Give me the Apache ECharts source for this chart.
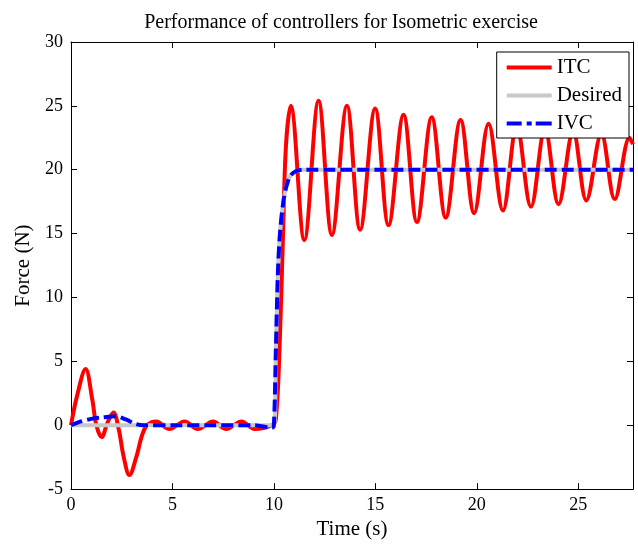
<!DOCTYPE html>
<html>
<head>
<meta charset="utf-8">
<script src="https://cdn.jsdelivr.net/npm/echarts@6/dist/echarts.min.js"></script>
<style>
  html, body { margin: 0; padding: 0; background: #fff; }
  #chart { width: 638px; height: 545px; }
</style>
</head>
<body>
<div id="chart"></div>
<script>
// valeurs : [temps (s), force (N)] — extrêmes des oscillations
const itc = [
  [0, 0], [0.3, 2.3], [0.72, 4.4], [1.05, 2.0], [1.25, 0], [1.51, -0.93], [1.8, 0.2], [2.09, 1.0],
  [2.35, -0.3], [2.6, -2.5], [2.88, -3.9], [3.2, -2.6], [3.5, -0.8], [3.75, 0], [4.2, 0.3],
  [4.85, -0.3], [5.6, 0.3], [6.25, -0.3], [7.0, 0.3], [7.65, -0.3], [8.4, 0.3], [9.05, -0.3],
  [9.9, 0], [10.1, 0.5], [10.3, 7], [10.45, 15], [10.6, 22], [10.83, 25.0], [11.5, 14.5], [12.2, 25.4],
  [12.86, 14.9], [13.6, 25.0], [14.25, 15.3], [14.99, 24.8], [15.65, 15.65], [16.39, 24.3],
  [17.05, 15.9], [17.78, 24.1], [18.47, 16.25], [19.2, 23.9], [19.87, 16.6], [20.58, 23.6],
  [21.29, 16.8], [21.97, 23.4], [22.67, 17.1], [23.36, 23.2], [24.03, 17.3], [24.75, 23.0],
  [25.4, 17.6], [26.14, 22.8], [26.8, 17.7], [27.53, 22.5], [27.7, 22.0]
];
const desired = [
  [0, 0], [10.0, 0], [10.1, 6], [10.2, 12], [10.3, 15], [10.45, 17.3], [10.6, 18.6], [10.8, 19.5],
  [11.1, 19.9], [11.5, 20], [27.7, 20]
];
const ivc = [
  [0, 0], [0.5, 0.3], [1.0, 0.5], [1.5, 0.6], [2.2, 0.7], [2.7, 0.45], [3.2, 0.1], [3.6, 0],
  [5, 0], [7, 0], [9, 0], [9.9, -0.2], [10.0, 0], [10.1, 6], [10.2, 12], [10.3, 15], [10.45, 17.3],
  [10.6, 18.6], [10.8, 19.5], [11.1, 19.9], [11.5, 20], [27.7, 20]
];
const xTicks = [0, 5, 10, 15, 20, 25];
const yTicks = [-5, 0, 5, 10, 15, 20, 25, 30];

const FONT = '"Liberation Serif", "DejaVu Serif", serif';
const chart = echarts.init(document.getElementById('chart'));

const axisCommon = {
  axisLine: { show: true, onZero: false, lineStyle: { color: '#000', width: 1 } },
  axisTick: { show: true, inside: true, length: 6, lineStyle: { color: '#000' } },
  splitLine: { show: false }
};

chart.setOption({
  animation: false,
  title: {
    text: 'Performance of controllers for Isometric exercise',
    left: 336, top: 8, textAlign: 'center',
    textStyle: { fontFamily: FONT, fontSize: 20, fontWeight: 'normal', color: '#000' }
  },
  legend: {
    orient: 'vertical', right: 9, top: 52,
    data: [
      { name: 'ITC', icon: 'rect' },
      { name: 'Desired', icon: 'rect' },
      { name: 'IVC', icon: 'path://M0,0h15v4h-15z M20,0h5v4h-5z M29,0h16v4h-16z' }
    ],
    itemWidth: 45, itemHeight: 4, itemGap: 7,
    padding: [5, 7, 4, 10],
    backgroundColor: '#fff', borderColor: '#000', borderWidth: 1, borderRadius: 0,
    textStyle: { fontFamily: FONT, fontSize: 21, color: '#000' }
  },
  grid: { left: 71, right: 5, top: 42, bottom: 52 },
  xAxis: [
    Object.assign({}, axisCommon, {
      type: 'value', min: 0, max: 27.7, interval: 5, position: 'bottom',
      name: 'Time (s)', nameLocation: 'middle', nameGap: 28,
      nameTextStyle: { fontFamily: FONT, fontSize: 21, color: '#000' },
      axisLabel: {
        fontFamily: FONT, fontSize: 18, color: '#000', margin: 7,
        formatter: (v) => (xTicks.indexOf(v) >= 0 ? String(v) : '')
      }
    }),
    Object.assign({}, axisCommon, {
      type: 'value', min: 0, max: 27.7, interval: 5, position: 'top',
      axisLabel: { show: false }
    })
  ],
  yAxis: [
    Object.assign({}, axisCommon, {
      type: 'value', min: -5, max: 30, interval: 5, position: 'left',
      name: 'Force (N)', nameLocation: 'middle', nameGap: 30, nameRotate: 90,
      nameTextStyle: { fontFamily: FONT, fontSize: 21, color: '#000' },
      axisLabel: {
        fontFamily: FONT, fontSize: 18, color: '#000', margin: 8,
        formatter: (v) => (yTicks.indexOf(v) >= 0 ? String(v) : '')
      }
    }),
    Object.assign({}, axisCommon, {
      type: 'value', min: -5, max: 30, interval: 5, position: 'right',
      axisLabel: { show: false }
    })
  ],
  series: [
    {
      name: 'ITC', type: 'line', data: itc, smooth: 0.36, symbol: 'none',
      lineStyle: { color: '#ff0000', width: 4 }, itemStyle: { color: '#ff0000' }
    },
    {
      name: 'Desired', type: 'line', data: desired, smooth: 0.3, symbol: 'none',
      lineStyle: { color: '#c8c8c8', width: 4 }, itemStyle: { color: '#c8c8c8' }
    },
    {
      name: 'IVC', type: 'line', data: ivc, smooth: 0.3, symbol: 'none',
      lineStyle: { color: '#0000ff', width: 4, type: [12, 5] }, itemStyle: { color: '#0000ff' }
    }
  ]
});
</script>
</body>
</html>
